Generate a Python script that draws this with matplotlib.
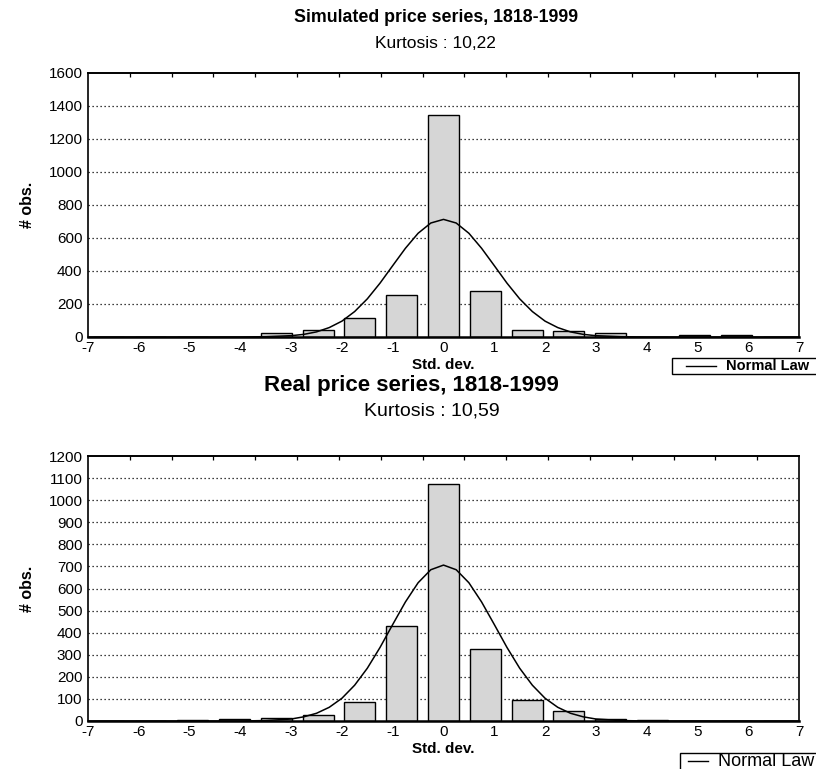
import numpy as np
import matplotlib
matplotlib.use("Agg")
import matplotlib.pyplot as plt
from matplotlib.patches import Rectangle
from matplotlib.lines import Line2D

plt.rcParams['font.family'] = ['Liberation Sans', 'DejaVu Sans']

# ---- data ----
bin_index = list(range(-8, 9))            # 17 bins spanning -7..7
bin_width_sd = 14.0 / 17.0
top_counts = [2, 2, 2, 3, 22, 44, 117, 254, 1345, 278, 42, 35, 22, 2, 12, 10, 3]
bot_counts = [1, 2, 3, 7, 13, 28, 88, 432, 1075, 327, 95, 45, 10, 5, 1, 2, 1]

curve_x = [-7, -4, -3.5, -3, -2.75, -2.5, -2.25, -2, -1.75, -1.5, -1.25, -1, -0.75, -0.5, -0.25,
           0, 0.25, 0.5, 0.75, 1, 1.25, 1.5, 1.75, 2, 2.25, 2.5, 2.75, 3, 3.5, 4, 7]
curve_top = [0, 0, 2, 8, 16, 31, 57, 96, 154, 231, 326, 432, 537, 628, 690,
             712, 690, 628, 537, 432, 326, 231, 154, 96, 57, 31, 16, 8, 2, 0, 0]
curve_bot = [0, 0, 2, 9, 19, 35, 62, 103, 162, 239, 333, 437, 539, 626, 685,
             706, 685, 626, 539, 437, 333, 239, 162, 103, 62, 35, 19, 9, 2, 0, 0]

x_ticks = list(range(-7, 8))
top_yticks = list(range(0, 1601, 200))
bot_yticks = list(range(0, 1201, 100))

titles = ["Simulated price series, 1818-1999", "Real price series, 1818-1999"]
subtitles = ["Kurtosis : 10,22", "Kurtosis : 10,59"]

W, H = 816, 769
fig = plt.figure(figsize=(W / 100, H / 100), dpi=100)

def fx(px):
    return px / W

def fy(py):
    return 1 - py / H

centers = [i * bin_width_sd for i in bin_index]
edges = [-7 + k * bin_width_sd for k in range(18)]

def make_panel(top_px, bot_px, counts, curve, yticks, ymax):
    ax = fig.add_axes([fx(88), fy(bot_px), fx(799) - fx(88), fy(top_px) - fy(bot_px)])
    ax.bar(centers, counts, width=bin_width_sd * 0.74, facecolor='#d6d6d6',
           edgecolor='black', linewidth=1.0, zorder=2)
    ax.plot(curve_x, curve, color='black', lw=1.1, zorder=3)
    ax.set_xlim(-7, 7)
    ax.set_ylim(0, ymax)
    ax.set_xticks(x_ticks)
    ax.set_xticklabels([str(v) for v in x_ticks])
    ax.set_yticks(yticks)
    ax.set_yticklabels([str(v) for v in yticks])
    for y in yticks[1:-1]:
        ax.axhline(y, color='black', lw=0.9, ls=(0, (1, 2.2)), zorder=1)
    ax.tick_params(axis='both', labelsize=11, length=0, pad=4)
    ax.tick_params(axis='x', pad=3)
    for s in ax.spines.values():
        s.set_linewidth(1.2)
    ax.spines['bottom'].set_linewidth(1.8)
    sec = ax.secondary_xaxis('top')
    sec.set_xticks(edges[1:-1])
    sec.set_xticklabels([])
    sec.tick_params(direction='in', length=3, width=0.9)
    sec.spines['top'].set_linewidth(1.2)
    ax.set_xlabel('Std. dev.', fontsize=11, fontweight='bold', labelpad=2)
    ax.set_ylabel('# obs.', fontsize=11.5, fontweight='bold', labelpad=10)
    return ax

ax1 = make_panel(72.7, 337, top_counts, curve_top, top_yticks, 1600)
ax2 = make_panel(456, 721, bot_counts, curve_bot, bot_yticks, 1200)

fig.text(fx(436), fy(17), titles[0], ha='center', va='center', fontsize=12.8, fontweight='bold')
fig.text(fx(435), fy(43), subtitles[0], ha='center', va='center', fontsize=12.5)
fig.text(fx(411), fy(386), titles[1], ha='center', va='center', fontsize=16, fontweight='bold')
fig.text(fx(432), fy(411), subtitles[1], ha='center', va='center', fontsize=14)

# legends (partially cut by the figure edge, as in the reference)
def legend_box(left, top, bottom, text_x, line_x0, line_x1, text_y, fs, fw):
    fig.add_artist(Rectangle((fx(left), fy(bottom)), fx(W + 20) - fx(left), fy(top) - fy(bottom),
                             transform=fig.transFigure, facecolor='white', edgecolor='black',
                             lw=1.0, clip_on=False))
    fig.add_artist(Line2D([fx(line_x0), fx(line_x1)], [fy(text_y), fy(text_y)],
                          transform=fig.transFigure, color='black', lw=1.0))
    fig.text(fx(text_x), fy(text_y), 'Normal Law', ha='left', va='center', fontsize=fs, fontweight=fw)

legend_box(672, 358, 374, 726, 686, 716, 366, 10.5, 'bold')
legend_box(680, 753, 790, 718, 688, 708, 761, 13, 'normal')

fig.savefig('out.png', dpi=100)
